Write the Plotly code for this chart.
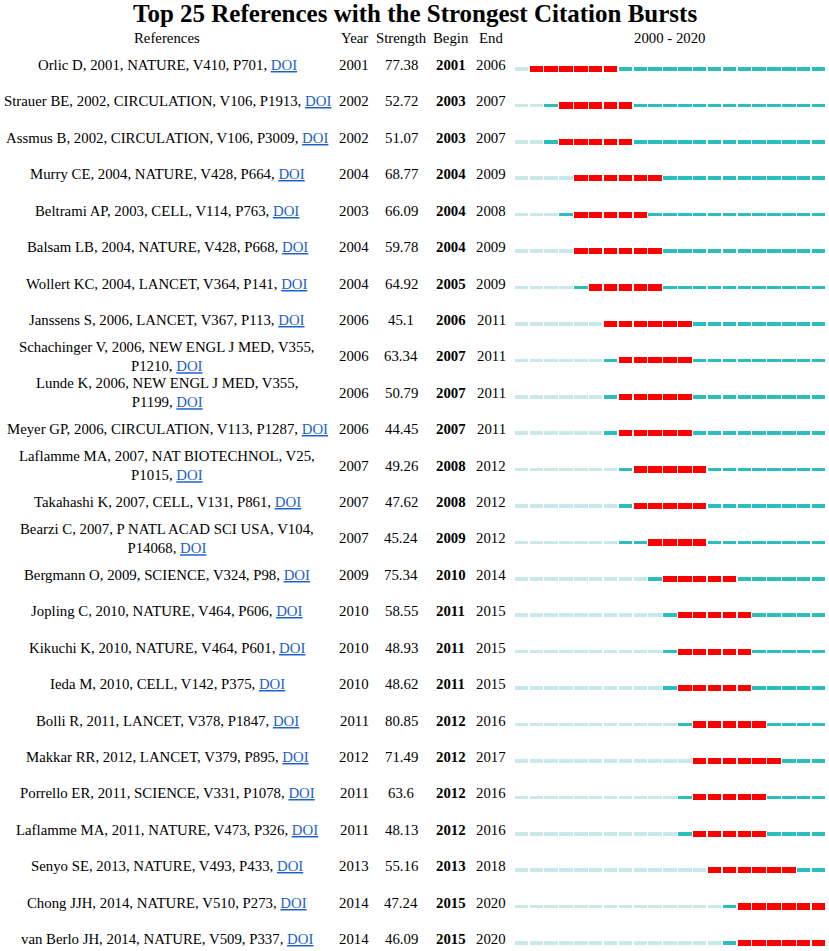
import plotly.graph_objects as go

# ---------------- data ----------------
refs = [
    "Orlic D, 2001, NATURE, V410, P701",
    "Strauer BE, 2002, CIRCULATION, V106, P1913",
    "Assmus B, 2002, CIRCULATION, V106, P3009",
    "Murry CE, 2004, NATURE, V428, P664",
    "Beltrami AP, 2003, CELL, V114, P763",
    "Balsam LB, 2004, NATURE, V428, P668",
    "Wollert KC, 2004, LANCET, V364, P141",
    "Janssens S, 2006, LANCET, V367, P113",
    "Schachinger V, 2006, NEW ENGL J MED, V355,<br>P1210",
    "Lunde K, 2006, NEW ENGL J MED, V355,<br>P1199",
    "Meyer GP, 2006, CIRCULATION, V113, P1287",
    "Laflamme MA, 2007, NAT BIOTECHNOL, V25,<br>P1015",
    "Takahashi K, 2007, CELL, V131, P861",
    "Bearzi C, 2007, P NATL ACAD SCI USA, V104,<br>P14068",
    "Bergmann O, 2009, SCIENCE, V324, P98",
    "Jopling C, 2010, NATURE, V464, P606",
    "Kikuchi K, 2010, NATURE, V464, P601",
    "Ieda M, 2010, CELL, V142, P375",
    "Bolli R, 2011, LANCET, V378, P1847",
    "Makkar RR, 2012, LANCET, V379, P895",
    "Porrello ER, 2011, SCIENCE, V331, P1078",
    "Laflamme MA, 2011, NATURE, V473, P326",
    "Senyo SE, 2013, NATURE, V493, P433",
    "Chong JJH, 2014, NATURE, V510, P273",
    "van Berlo JH, 2014, NATURE, V509, P337",
]
pub_year = [2001, 2002, 2002, 2004, 2003, 2004, 2004, 2006, 2006, 2006, 2006, 2007, 2007,
            2007, 2009, 2010, 2010, 2010, 2011, 2012, 2011, 2011, 2013, 2014, 2014]
strength = ["77.38", "52.72", "51.07", "68.77", "66.09", "59.78", "64.92", "45.1", "63.34",
            "50.79", "44.45", "49.26", "47.62", "45.24", "75.34", "58.55", "48.93", "48.62",
            "80.85", "71.49", "63.6", "48.13", "55.16", "47.24", "46.09"]
begin = [2001, 2003, 2003, 2004, 2004, 2004, 2005, 2006, 2007, 2007, 2007, 2008, 2008,
         2009, 2010, 2011, 2011, 2011, 2012, 2012, 2012, 2012, 2013, 2015, 2015]
end = [2006, 2007, 2007, 2009, 2008, 2009, 2009, 2011, 2011, 2011, 2011, 2012, 2012,
       2012, 2014, 2015, 2015, 2015, 2016, 2017, 2016, 2016, 2018, 2020, 2020]
first_year, last_year = 2000, 2020
headers = ["References", "Year", "Strength", "Begin", "End", "2000 - 2020"]
title = "Top 25 References with the Strongest Citation Bursts"

# ---------------- style ----------------
W, H = 829, 951
FONT = "Liberation Serif, Times New Roman, serif"
FS = 14.8
C_LIGHT = "#C9E8EA"
C_TEAL = "#2CBDBD"
C_RED = "#FF0000"
C_LINK = "#1F5FC8"
SEG = 0.9          # segment length (years)
TH_THIN = 0.10     # thin bar thickness (row units)
TH_RED = 0.17      # burst bar thickness (row units)

n = len(refs)
rows = list(range(n))

# build segments from data
seg = {"light": ([], []), "teal": ([], []), "red": ([], [])}
for i in rows:
    for yr in range(first_year, last_year + 1):
        if yr < pub_year[i]:
            k = "light"
        elif begin[i] <= yr <= end[i]:
            k = "red"
        else:
            k = "teal"
        seg[k][0].append(i)
        seg[k][1].append(yr - SEG / 2)

fig = go.Figure()
for k, col, th in [("light", C_LIGHT, TH_THIN), ("teal", C_TEAL, TH_THIN), ("red", C_RED, TH_RED)]:
    ys, bases = seg[k]
    fig.add_trace(go.Bar(
        orientation="h", y=ys, base=bases, x=[SEG] * len(ys), width=th,
        marker=dict(color=col, line=dict(width=0)), showlegend=False, hoverinfo="skip",
    ))

# column positions (paper x)
col_x = {"ref": 167 / W, "year": 354 / W, "str": 401 / W, "beg": 451 / W, "end": 491 / W,
         "tl": 670 / W}

ann = []
def add(x, y, text, yref="y", size=FS, yshift=4, bold=False, yanchor="middle"):
    ann.append(dict(x=x, y=y, xref="paper", yref=yref, text=("<b>%s</b>" % text) if bold else text,
                    showarrow=False, xanchor="center", yanchor=yanchor, align="center",
                    yshift=yshift, borderpad=0,
                    font=dict(family=FONT, size=size, color="black")))

link = "<span style='color:%s'><u>DOI</u></span>" % C_LINK
for i in rows:
    add(col_x["ref"], i, refs[i] + ", " + link)
    add(col_x["year"], i, str(pub_year[i]))
    add(col_x["str"], i, strength[i])
    add(col_x["beg"], i, str(begin[i]), bold=True)
    add(col_x["end"], i, str(end[i]))

hy = 1 - 38 / H
for key, h in zip(["ref", "year", "str", "beg", "end", "tl"], headers):
    add(col_x[key], hy, h, yref="paper", yshift=0)
add(0.5, 1.0, title, yref="paper", size=25, yshift=1, bold=True, yanchor="top")

# y axis: row 0 at ~69px, row 24 at ~943px
px_per_row = (943 - 69) / (n - 1)
y_top = -69 / px_per_row
y_bot = y_top + H / px_per_row

fig.update_layout(
    width=W, height=H, margin=dict(l=0, r=0, t=0, b=0),
    paper_bgcolor="white", plot_bgcolor="white",
    barmode="overlay", bargap=0,
    xaxis=dict(domain=[514 / W, 826 / W], range=[first_year - 0.5, last_year + 0.5],
               visible=False, fixedrange=True),
    yaxis=dict(range=[y_bot, y_top], visible=False, fixedrange=True),
    annotations=ann,
)

fig.write_html("out.html", config={"displayModeBar": False},
               post_script="document.body.style.margin='0';document.body.style.overflow='hidden';")
